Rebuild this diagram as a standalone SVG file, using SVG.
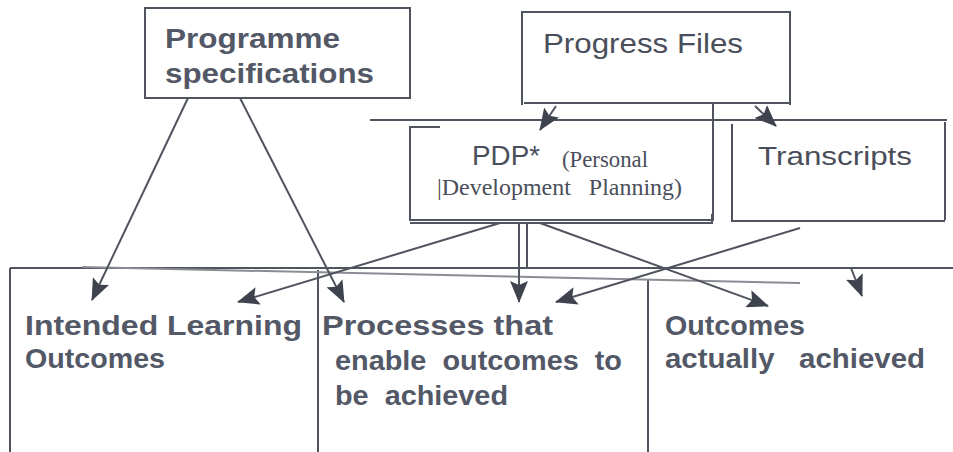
<svg xmlns="http://www.w3.org/2000/svg" width="953" height="452" viewBox="0 0 953 452">
  <style>
    text { white-space: pre; }
    .ln { stroke: #50545f; stroke-width: 2; fill: none; }
    .faint { stroke: #8a8d94; stroke-width: 2; fill: none; }
    .bold { font-family: "Liberation Sans", Arial, sans-serif; font-weight: bold; fill: #535867; }
    .sans { font-family: "Liberation Sans", Arial, sans-serif; fill: #4a4e5a; }
    .serif { font-family: "Liberation Serif", "Times New Roman", serif; fill: #4a4e5a; }
  </style>
  <defs>
    <marker id="ahL" markerWidth="22" markerHeight="18" refX="21" refY="9" orient="auto" markerUnits="userSpaceOnUse" viewBox="0 0 22 18">
      <path d="M0,0 L22,9 L0,18 L4,9 Z" fill="#3f434e"/>
    </marker>
  </defs>
  <rect width="953" height="452" fill="#ffffff"/>

  <!-- Programme specifications -->
  <g id="programme-specifications">
    <rect class="ln" x="145" y="8" width="265" height="90"/>
    <text class="bold" x="165" y="48" font-size="27" textLength="175" lengthAdjust="spacingAndGlyphs">Programme</text>
    <text class="bold" x="165" y="83" font-size="27" textLength="209" lengthAdjust="spacingAndGlyphs">specifications</text>
  </g>

  <!-- Progress Files -->
  <g id="progress-files">
    <path class="ln" d="M522,105 V12 H790 V105 M524,103 H790"/>
    <text class="sans" x="543" y="53" font-size="27" textLength="200" lengthAdjust="spacingAndGlyphs">Progress Files</text>
  </g>

  <!-- PDP -->
  <g id="pdp">
    <path class="ln" d="M440,127 H410 V220 H713 V103"/>
    <path class="ln" d="M410,223 H712 V214"/>
    <text class="sans" x="472" y="165" font-size="28" textLength="68" lengthAdjust="spacingAndGlyphs">PDP*</text>
    <text class="serif" x="562" y="167" font-size="24" textLength="86" lengthAdjust="spacingAndGlyphs">(Personal</text>
    <text class="serif" x="437" y="195" font-size="24" textLength="245" lengthAdjust="spacingAndGlyphs">|Development   Planning)</text>
  </g>

  <!-- Transcripts -->
  <g id="transcripts">
    <path class="ln" d="M732,124 V221 H945 M945,122 V220"/>
    <text class="sans" x="758" y="165" font-size="26" textLength="154" lengthAdjust="spacingAndGlyphs">Transcripts</text>
  </g>

  <!-- Outcome columns -->
  <g id="intended-learning-outcomes">
    <path class="ln" d="M10,268 V452"/>
    <text class="bold" x="25" y="335" font-size="28" textLength="277" lengthAdjust="spacingAndGlyphs">Intended Learning</text>
    <text class="bold" x="25" y="368" font-size="28" textLength="140" lengthAdjust="spacingAndGlyphs">Outcomes</text>
  </g>
  <g id="processes">
    <path class="ln" d="M318,270 V452"/>
    <text class="bold" x="322" y="335" font-size="28" textLength="231" lengthAdjust="spacingAndGlyphs">Processes that</text>
    <text class="bold" x="335" y="370" font-size="28" textLength="287" lengthAdjust="spacingAndGlyphs">enable  outcomes  to</text>
    <text class="bold" x="335" y="405" font-size="28" textLength="173" lengthAdjust="spacingAndGlyphs">be  achieved</text>
  </g>
  <g id="outcomes-achieved">
    <path class="ln" d="M648,280 V452"/>
    <text class="bold" x="665" y="335" font-size="28" textLength="140" lengthAdjust="spacingAndGlyphs">Outcomes</text>
    <text class="bold" x="665" y="368" font-size="28" textLength="260" lengthAdjust="spacingAndGlyphs">actually   achieved</text>
  </g>

  <!-- Connectors -->
  <g id="connectors">
    <path class="ln" d="M370,120 H947"/>
    <path class="ln" d="M10,268 H953"/>
    <path class="faint" d="M82,267 L800,283"/>
    <path class="ln" d="M527,222 V268"/>
    <path class="ln" d="M188,98 L92,300" marker-end="url(#ahL)"/>
    <path class="ln" d="M240,98 L344,302" marker-end="url(#ahL)"/>
    <path class="ln" d="M500,223 L238,302" marker-end="url(#ahL)"/>
    <path class="ln" d="M519,222 V302" marker-end="url(#ahL)"/>
    <path class="ln" d="M540,223 L768,306" marker-end="url(#ahL)"/>
    <path class="ln" d="M800,228 L556,302" marker-end="url(#ahL)"/>
    <path class="ln" d="M851,268 L862,296" marker-end="url(#ahL)"/>
    <path class="ln" d="M556,106 L540,130" marker-end="url(#ahL)"/>
    <path class="ln" d="M755,106 L776,126" marker-end="url(#ahL)"/>
  </g>
</svg>
